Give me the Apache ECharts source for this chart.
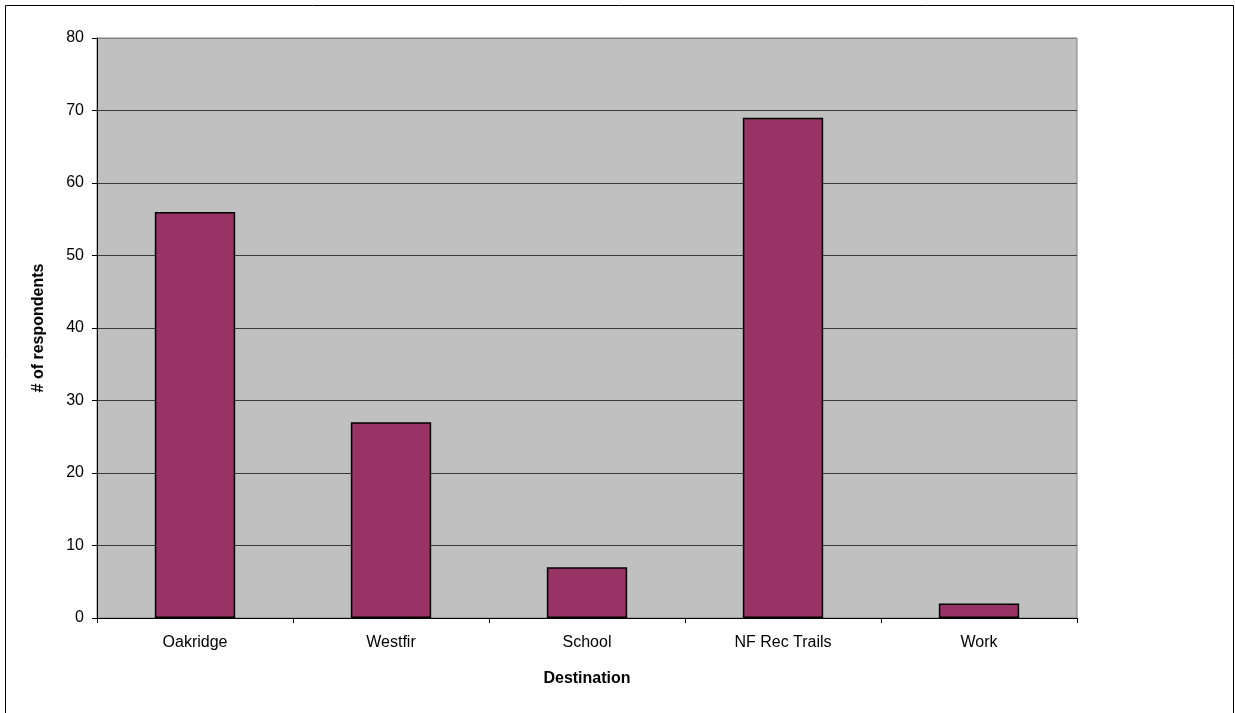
<!DOCTYPE html>
<html>
<head>
<meta charset="utf-8">
<script src="https://cdn.jsdelivr.net/npm/echarts@6/dist/echarts.min.js"></script>
<style>
  html, body { margin: 0; padding: 0; background: #fff; }
  #chart { width: 1235px; height: 713px; }
</style>
</head>
<body>
<div id="chart"></div>
<script>
// Trips by destination
const categories = ['Oakridge', 'Westfir', 'School', 'NF Rec Trails', 'Work'];
const respondents = [56, 27, 7, 69, 2];
const yTicks = [0, 10, 20, 30, 40, 50, 60, 70, 80];

const chart = echarts.init(document.getElementById('chart'));
const font = 'Liberation Sans, Arial, sans-serif';

chart.setOption({
  animation: false,
  backgroundColor: '#ffffff',
  graphic: [{
    // outer frame (bottom edge runs off the page)
    type: 'rect',
    shape: { x: 5.5, y: 5.5, width: 1228, height: 720 },
    style: { fill: 'none', stroke: '#000', lineWidth: 1 },
    z: 100
  }],
  grid: {
    left: 97, top: 38, width: 980, height: 580,
    show: true, backgroundColor: '#c0c0c0', borderColor: '#808080', borderWidth: 1
  },
  xAxis: {
    type: 'category',
    data: categories,
    name: 'Destination',
    nameLocation: 'middle',
    nameGap: 53,
    nameTextStyle: { fontFamily: font, fontSize: 16, fontWeight: 'bold', color: '#000' },
    axisLine: { lineStyle: { color: '#000', width: 1 } },
    axisTick: { show: true, alignWithLabel: false, length: 5, lineStyle: { color: '#000' } },
    axisLabel: { fontFamily: font, fontSize: 16, color: '#000', margin: 17 }
  },
  yAxis: {
    type: 'value',
    min: yTicks[0],
    max: yTicks[yTicks.length - 1],
    interval: 10,
    name: '# of respondents',
    nameLocation: 'middle',
    nameGap: 50,
    nameTextStyle: { fontFamily: font, fontSize: 16, fontWeight: 'bold', color: '#000' },
    axisLine: { show: true, lineStyle: { color: '#000', width: 1 } },
    axisTick: { show: true, length: 5, lineStyle: { color: '#000' } },
    axisLabel: { fontFamily: font, fontSize: 16, color: '#000', margin: 13, showMaxLabel: true },
    splitLine: {
      show: true,
      lineStyle: {
        // top line is the plot frame, drawn in grey
        color: ['#3a3a3a', '#3a3a3a', '#3a3a3a', '#3a3a3a', '#3a3a3a', '#3a3a3a', '#3a3a3a', '#3a3a3a', '#808080'],
        width: 1
      }
    }
  },
  series: [{
    type: 'bar',
    data: respondents,
    barCategoryGap: '59%',
    itemStyle: { color: '#993366', borderColor: '#000', borderWidth: 1.5 }
  }]
});
</script>
</body>
</html>
